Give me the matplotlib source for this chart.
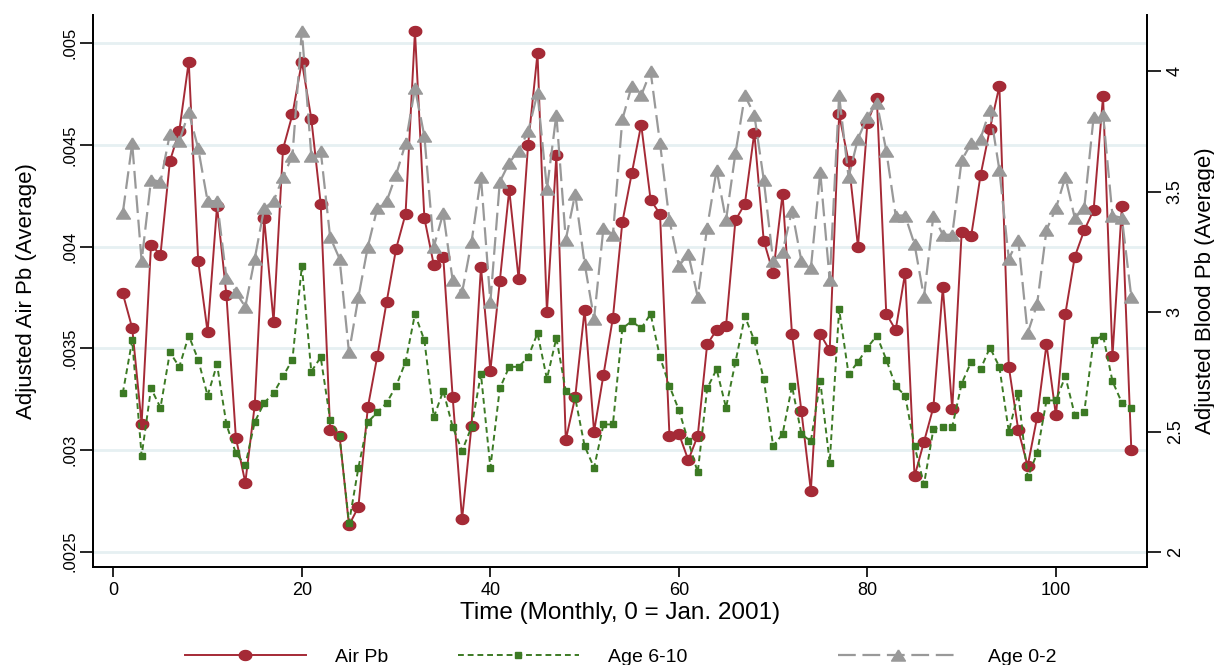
import matplotlib
matplotlib.use("Agg")
import matplotlib.pyplot as plt
import numpy as np

# Monthly series, month 1..108 (0 = Jan. 2001)
months = np.arange(1, 109)

air_pb = [
    .00377, .00360, .00313, .00401, .00396, .00442, .00457, .00491, .00393, .00358,
    .00420, .00376, .00306, .00284, .00322, .00414, .00363, .00448, .00465, .00491,
    .00463, .00421, .00310, .00307, .00263, .00272, .00321, .00346, .00373, .00399,
    .00416, .00506, .00414, .00391, .00395, .00326, .00266, .00312, .00390, .00339,
    .00383, .00428, .00384, .00450, .00495, .00368, .00445, .00305, .00326, .00369,
    .00309, .00337, .00365, .00412, .00436, .00460, .00423, .00416, .00307, .00308,
    .00295, .00307, .00352, .00359, .00361, .00413, .00421, .00456, .00403, .00387,
    .00426, .00357, .00319, .00280, .00357, .00349, .00465, .00442, .00400, .00461,
    .00473, .00367, .00359, .00387, .00287, .00304, .00321, .00380, .00320, .00407,
    .00405, .00435, .00458, .00479, .00341, .00310, .00292, .00316, .00352, .00317,
    .00367, .00395, .00408, .00418, .00474, .00346, .00420, .00300,
]

age_6_10 = [
    2.66, 2.88, 2.40, 2.68, 2.60, 2.83, 2.77, 2.90, 2.80, 2.65,
    2.78, 2.53, 2.41, 2.36, 2.54, 2.62, 2.66, 2.73, 2.80, 3.19,
    2.75, 2.81, 2.55, 2.48, 2.12, 2.35, 2.54, 2.58, 2.62, 2.69,
    2.79, 2.99, 2.88, 2.56, 2.67, 2.52, 2.42, 2.52, 2.74, 2.35,
    2.68, 2.77, 2.77, 2.81, 2.91, 2.72, 2.89, 2.67, 2.64, 2.44,
    2.35, 2.53, 2.53, 2.93, 2.96, 2.93, 2.99, 2.81, 2.69, 2.59,
    2.46, 2.33, 2.68, 2.76, 2.60, 2.79, 2.98, 2.88, 2.72, 2.44,
    2.49, 2.69, 2.49, 2.46, 2.71, 2.37, 3.01, 2.74, 2.79, 2.85,
    2.90, 2.80, 2.69, 2.65, 2.44, 2.28, 2.51, 2.52, 2.52, 2.70,
    2.79, 2.76, 2.85, 2.77, 2.50, 2.66, 2.31, 2.41, 2.63, 2.63,
    2.73, 2.57, 2.58, 2.88, 2.90, 2.71, 2.62, 2.60,
]

age_0_2 = [
    3.41, 3.70, 3.21, 3.55, 3.54, 3.74, 3.71, 3.83, 3.68, 3.46,
    3.46, 3.14, 3.08, 3.02, 3.22, 3.43, 3.46, 3.56, 3.65, 4.17,
    3.65, 3.67, 3.31, 3.22, 2.83, 3.06, 3.27, 3.43, 3.46, 3.57,
    3.70, 3.93, 3.73, 3.27, 3.41, 3.13, 3.08, 3.29, 3.56, 3.04,
    3.54, 3.62, 3.67, 3.75, 3.91, 3.51, 3.82, 3.30, 3.49, 3.20,
    2.97, 3.35, 3.32, 3.80, 3.94, 3.90, 4.00, 3.70, 3.38, 3.19,
    3.24, 3.06, 3.35, 3.59, 3.38, 3.66, 3.90, 3.82, 3.55, 3.21,
    3.25, 3.42, 3.21, 3.18, 3.58, 3.13, 3.90, 3.56, 3.72, 3.81,
    3.87, 3.67, 3.40, 3.40, 3.28, 3.06, 3.40, 3.32, 3.32, 3.63,
    3.70, 3.72, 3.84, 3.59, 3.22, 3.30, 2.91, 3.03, 3.34, 3.43,
    3.56, 3.39, 3.43, 3.81, 3.82, 3.40, 3.39, 3.06,
]

x_ticks = [0, 20, 40, 60, 80, 100]
left_ticks = [0.0025, 0.003, 0.0035, 0.004, 0.0045, 0.005]
left_tick_labels = [".0025", ".003", ".0035", ".004", ".0045", ".005"]
right_ticks = [2, 2.5, 3, 3.5, 4]
right_tick_labels = ["2", "2.5", "3", "3.5", "4"]

plt.rcParams['font.family'] = ['Liberation Sans', 'DejaVu Sans']

RED = "#A52A36"
GREEN = "#3C7A24"
GRAY = "#999999"
GRID = "#E6F0F2"

# markers a bit wider than tall, like the original
t = np.linspace(0, 2 * np.pi, 40)
ellipse = np.column_stack([np.cos(t), 0.8 * np.sin(t)])
triangle = [(0, 0.8), (-1, -0.8), (1, -0.8), (0, 0.8)]

fig = plt.figure(figsize=(12.14, 6.65), dpi=100)
ax = fig.add_axes([0.0769, 0.1478, 0.8682, 0.8296])
ax2 = ax.twinx()

ax.plot(months, air_pb, color=RED, lw=1.4, marker=ellipse, ms=9,
        label="Air Pb", zorder=3)
ax2.plot(months, age_6_10, color=GREEN, lw=1.4, ls=(0, (3, 2)), marker='s',
         ms=4, label="Age 6-10")
ax2.plot(months, age_0_2, color=GRAY, lw=1.6, ls=(0, (8, 3)), marker=triangle,
         ms=10, label="Age 0-2")

ax.set_xlim(-2.12, 109.7)
ax.set_ylim(0.002426, 0.005139)
ax2.set_ylim(1.9375, 4.235)

ax.set_xticks(x_ticks)
ax.set_xticklabels([str(v) for v in x_ticks])
ax.set_yticks(left_ticks)
ax.set_yticklabels(left_tick_labels, rotation=90, va='center')
ax2.set_yticks(right_ticks)
ax2.set_yticklabels(right_tick_labels, rotation=90, va='center')

ax.yaxis.grid(True, color=GRID, lw=2)
ax.set_axisbelow(True)

for a in (ax, ax2):
    a.spines['top'].set_visible(False)
    for s in ('left', 'right', 'bottom'):
        a.spines[s].set_linewidth(1.3)

ax.tick_params(axis='x', length=7, width=1.2, pad=4, labelsize=13)
ax.tick_params(axis='y', length=9.5, width=1.2, pad=2, labelsize=12)
ax2.tick_params(axis='y', length=10, width=1.2, pad=4, labelsize=13)

ax.set_xlabel("Time (Monthly, 0 = Jan. 2001)", fontsize=17.5, labelpad=2)
ax.set_ylabel("Adjusted Air Pb (Average)", fontsize=16, labelpad=18)
ax2.set_ylabel("Adjusted Blood Pb (Average)", fontsize=16, labelpad=8)

# legend entries spread along the bottom
h1, = ax.get_lines()
h2, h3 = ax2.get_lines()
for h, x in ((h1, 185), (h2, 458), (h3, 838)):
    fig.legend([h], [h.get_label()], loc='center left',
               bbox_to_anchor=(x / 1214, 1 - 657 / 665), frameon=False,
               fontsize=14, handlelength=6.2, handletextpad=1.5,
               borderpad=0, borderaxespad=0, numpoints=1)

fig.savefig("out.png", dpi=100)
